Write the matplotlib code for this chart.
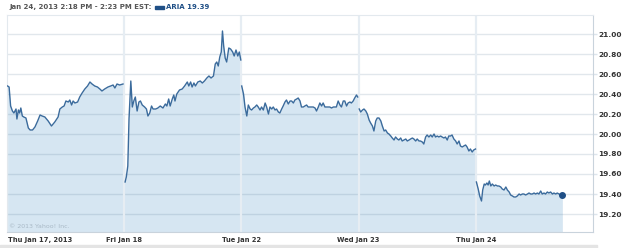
import numpy as np
import matplotlib.pyplot as plt
import matplotlib.transforms as mtransforms
from matplotlib.patches import Rectangle

# ARIA intraday, 5 sessions; minutes from 9:30 open and price
day_labels = ['Thu Jan 17, 2013', 'Fri Jan 18', 'Tue Jan 22', 'Wed Jan 23', 'Thu Jan 24']

jan17_min = [2, 7, 12, 18, 23, 30, 33, 38, 42, 46, 51, 56, 63, 71, 77, 85, 93, 102, 110, 117,
             126, 137, 148, 159, 170, 176, 184, 190, 196, 204, 209, 215, 220, 226, 235, 242,
             250, 259, 268, 276, 283, 292, 301, 309, 316, 325, 336, 345, 353, 359, 366, 375, 386]
jan17_px = [20.48, 20.47, 20.28, 20.23, 20.21, 20.25, 20.15, 20.24, 20.21, 20.26, 20.18, 20.17,
            20.16, 20.06, 20.04, 20.04, 20.07, 20.13, 20.19, 20.18, 20.17, 20.13, 20.08, 20.12,
            20.17, 20.25, 20.27, 20.28, 20.33, 20.32, 20.34, 20.29, 20.33, 20.31, 20.32, 20.37,
            20.41, 20.45, 20.48, 20.52, 20.50, 20.48, 20.47, 20.45, 20.43, 20.45, 20.47, 20.48,
            20.49, 20.46, 20.50, 20.49, 20.50]

jan18_min = [3, 7, 12, 16, 22, 27, 32, 37, 43, 49, 54, 60, 68, 74, 79, 85, 91, 96, 105, 112,
             120, 129, 137, 142, 148, 153, 160, 165, 169, 175, 184, 193, 201, 210, 215, 221,
             226, 232, 237, 245, 253, 260, 267, 275, 282, 289, 297, 303, 308, 313, 318, 323,
             327, 331, 336, 341, 348, 354, 361, 366, 372, 378, 383, 388]
jan18_px = [19.52, 19.57, 19.68, 20.15, 20.53, 20.27, 20.33, 20.37, 20.23, 20.32, 20.33, 20.29,
            20.27, 20.25, 20.18, 20.21, 20.28, 20.25, 20.25, 20.26, 20.28, 20.26, 20.30, 20.28,
            20.35, 20.28, 20.35, 20.39, 20.33, 20.40, 20.44, 20.45, 20.48, 20.52, 20.48, 20.52,
            20.47, 20.51, 20.48, 20.52, 20.53, 20.51, 20.53, 20.56, 20.58, 20.56, 20.58, 20.70,
            20.72, 20.68, 20.77, 20.82, 21.03, 20.88, 20.76, 20.72, 20.86, 20.85, 20.82, 20.78,
            20.84, 20.78, 20.82, 20.74]

jan22_min = [1, 7, 12, 18, 23, 29, 34, 40, 45, 51, 56, 62, 67, 73, 79, 84, 90, 95, 101, 106,
             112, 117, 123, 128, 134, 139, 145, 150, 156, 162, 167, 173, 178, 184, 189, 195,
             200, 206, 211, 217, 222, 228, 233, 239, 245, 250, 256, 261, 267, 272, 278, 283,
             289, 294, 300, 306, 311, 316, 322, 328, 333, 339, 344, 350, 355, 361, 366, 372,
             377, 383, 387]
jan22_px = [20.48, 20.40, 20.27, 20.18, 20.29, 20.25, 20.24, 20.26, 20.27, 20.29, 20.27, 20.24,
            20.27, 20.24, 20.31, 20.27, 20.20, 20.27, 20.25, 20.27, 20.24, 20.25, 20.22, 20.21,
            20.25, 20.28, 20.32, 20.34, 20.30, 20.33, 20.33, 20.31, 20.34, 20.35, 20.36, 20.33,
            20.27, 20.27, 20.28, 20.29, 20.27, 20.27, 20.27, 20.27, 20.26, 20.23, 20.27, 20.31,
            20.28, 20.31, 20.27, 20.27, 20.27, 20.27, 20.26, 20.27, 20.27, 20.27, 20.33, 20.29,
            20.27, 20.33, 20.33, 20.28, 20.31, 20.32, 20.31, 20.33, 20.36, 20.39, 20.37]

jan23_min = [2, 7, 13, 18, 24, 29, 35, 40, 46, 51, 57, 62, 68, 74, 79, 85, 90, 96, 101, 107,
             112, 118, 123, 129, 134, 140, 145, 151, 157, 162, 168, 173, 179, 184, 190, 195,
             201, 206, 212, 217, 223, 228, 234, 240, 245, 251, 256, 262, 267, 273, 278, 284,
             289, 295, 300, 306, 311, 317, 323, 328, 334, 339, 345, 350, 356, 361, 367, 372,
             378, 383, 389]
jan23_px = [20.25, 20.22, 20.24, 20.25, 20.23, 20.20, 20.14, 20.11, 20.08, 20.03, 20.13, 20.16,
            20.16, 20.13, 20.08, 20.03, 20.04, 20.01, 20.00, 19.98, 19.96, 19.94, 19.97, 19.95,
            19.94, 19.96, 19.93, 19.94, 19.95, 19.93, 19.94, 19.95, 19.96, 19.95, 19.93, 19.95,
            19.93, 19.93, 19.92, 19.90, 19.97, 19.99, 19.97, 19.99, 19.97, 20.00, 19.97, 19.98,
            19.97, 19.98, 19.97, 19.96, 19.97, 19.94, 19.98, 19.98, 19.99, 19.95, 19.93, 19.90,
            19.93, 19.88, 19.87, 19.88, 19.89, 19.87, 19.83, 19.85, 19.82, 19.84, 19.85]

jan24_min = [2, 8, 13, 19, 23, 28, 32, 37, 41, 45, 50, 55, 61, 66, 72, 77, 83, 88, 94, 100,
             105, 111, 116, 122, 127, 133, 138, 144, 149, 155, 160, 166, 172, 177, 183, 188,
             194, 199, 205, 210, 216, 221, 227, 232, 238, 243, 249, 255, 260, 266, 271, 277,
             282, 288]
jan24_px = [19.52, 19.45, 19.38, 19.33, 19.44, 19.50, 19.49, 19.51, 19.49, 19.53, 19.48, 19.50,
            19.48, 19.49, 19.48, 19.48, 19.47, 19.45, 19.44, 19.47, 19.44, 19.42, 19.39, 19.38,
            19.37, 19.37, 19.38, 19.40, 19.39, 19.40, 19.40, 19.39, 19.40, 19.41, 19.40, 19.40,
            19.41, 19.40, 19.41, 19.40, 19.43, 19.40, 19.41, 19.40, 19.42, 19.41, 19.42, 19.40,
            19.41, 19.40, 19.41, 19.40, 19.39, 19.39]

days_min = [jan17_min, jan18_min, jan22_min, jan23_min, jan24_min]
days_px = [jan17_px, jan18_px, jan22_px, jan23_px, jan24_px]
y_ticks = [19.2, 19.4, 19.6, 19.8, 20.0, 20.2, 20.4, 20.6, 20.8, 21.0]

session = 390
line_c = '#3b6b9c'
fill_c = '#d6e6f2'
text_c = '#333333'

W, H = 625, 248
fig = plt.figure(figsize=(W / 100, H / 100), dpi=100)
ax = fig.add_axes([7 / W, 16 / H, 586 / W, 217 / H])
ax.set_xlim(0, 5 * session)
ax.set_ylim(19.02, 21.19)

all_t, all_p = [], []
for i, (mins, px) in enumerate(zip(days_min, days_px)):
    t = i * session + np.array(mins)
    all_t.extend(t)
    all_p.extend(px)
ax.fill_between(all_t, all_p, 19.0, color=fill_c, lw=0, zorder=1)

# grid on top of the fill
for y in y_ticks:
    ax.axhline(y, color='#5a7a96', alpha=0.18, lw=1, zorder=2)
for i in range(1, 5):
    ax.axvline(i * session, color='#e6edf3', lw=1.6, zorder=2)

for i, (mins, px) in enumerate(zip(days_min, days_px)):
    ax.plot(i * session + np.array(mins), px, color=line_c, lw=1, zorder=3)
ax.plot(all_t[-1], all_p[-1], 'o', color='#1f4f86', ms=4, zorder=4)

ax.set_xticks([])
ax.set_yticks(y_ticks)
ax.yaxis.tick_right()
ax.set_yticklabels(['%.2f' % v for v in y_ticks], fontsize=5.3, fontweight='bold', color=text_c)
ax.tick_params(axis='y', length=3, width=1, color='#dde5ec', pad=1)
for s in ['left', 'top']:
    ax.spines[s].set_color('#e3e9ee')
for s in ['right', 'bottom']:
    ax.spines[s].set_color('#c9d3dc')

# header
fig.text(9 / W, 1 - 7 / H, 'Jan 24, 2013 2:18 PM - 2:23 PM EST:', fontsize=5.0,
         fontweight='bold', color='#555555', va='center')
fig.patches.append(Rectangle((155 / W, 1 - 8.5 / H), 9 / W, 3 / H, color='#1f4f86',
                             transform=fig.transFigure))
fig.text(166 / W, 1 - 7 / H, 'ARIA 19.39', fontsize=5.0, fontweight='bold',
         color='#1f4f86', va='center')

# date labels under the chart, centred on the session boundaries
trans = mtransforms.blended_transform_factory(ax.transData, fig.transFigure)
fig.text(8 / W, 1 - 240 / H, day_labels[0], fontsize=4.9, fontweight='bold', color=text_c,
         va='center')
for i, lab in enumerate(day_labels[1:], start=1):
    ax.text(i * session, 1 - 240 / H, lab, transform=trans, fontsize=4.9, fontweight='bold',
            color=text_c, ha='center', va='center')

fig.text(9 / W, 1 - 226 / H, '\u00a9 2013 Yahoo! Inc.', fontsize=4.5, color='#a9b9c6',
         va='center')
fig.patches.append(Rectangle((0, 0), 597 / W, 3 / H, color='#e4e4e4',
                             transform=fig.transFigure))

fig.savefig('out.png', dpi=100)
